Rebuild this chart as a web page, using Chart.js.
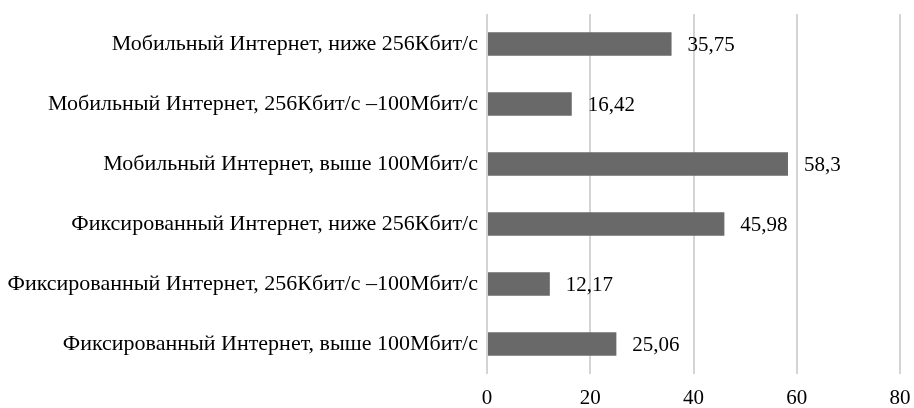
<!DOCTYPE html>
<html>
<head>
<meta charset="utf-8">
<script src="https://cdn.jsdelivr.net/npm/chart.js@4"></script>
<style>
  html, body { margin: 0; padding: 0; background: #fff; }
  #wrap { width: 914px; height: 408px; }
</style>
</head>
<body>
<div id="wrap"><canvas id="speedChart"></canvas></div>
<script>
/* ================= Data ================= */
const categories = [
  "Мобильный Интернет, ниже 256Кбит/с",
  "Мобильный Интернет, 256Кбит/с –100Мбит/с",
  "Мобильный Интернет, выше 100Мбит/с",
  "Фиксированный Интернет, ниже 256Кбит/с",
  "Фиксированный Интернет, 256Кбит/с –100Мбит/с",
  "Фиксированный Интернет, выше 100Мбит/с",
];
const values = [35.75, 16.42, 58.3, 45.98, 12.17, 25.06];
const xTicks = [0, 20, 40, 60, 80];

const FONT = "'Liberation Serif', 'Times New Roman', serif";

// value labels at the end of each bar
const barLabels = {
  id: "barLabels",
  afterDatasetsDraw(chart) {
    const ctx = chart.ctx;
    const meta = chart.getDatasetMeta(0);
    ctx.save();
    ctx.font = "21px " + FONT;
    ctx.fillStyle = "#000";
    ctx.textAlign = "left";
    ctx.textBaseline = "middle";
    meta.data.forEach((bar, i) => {
      const txt = String(values[i]).replace(".", ",");
      ctx.fillText(txt, bar.x + 16, bar.y + 1);
    });
    ctx.restore();
  },
};

const ctx = document.getElementById("speedChart").getContext("2d");
new Chart(ctx, {
  type: "bar",
  data: {
    labels: categories,
    datasets: [
      {
        data: values,
        backgroundColor: "#696969",
        barPercentage: 1,
        categoryPercentage: 0.39,
      },
    ],
  },
  options: {
    indexAxis: "y",
    responsive: true,
    maintainAspectRatio: false,
    animation: false,
    layout: { padding: { top: 14, right: 14, left: 0, bottom: 0 } },
    plugins: { legend: { display: false }, tooltip: { enabled: false } },
    scales: {
      x: {
        min: 0,
        max: 80,
        afterBuildTicks: (s) => { s.ticks = xTicks.map((v) => ({ value: v })); },
        grid: { color: "#d4d4d4", lineWidth: 2, drawTicks: false },
        border: { display: false },
        ticks: {
          color: "#000",
          font: { family: FONT, size: 21 },
          padding: 12,
        },
        afterFit: (s) => {
          s.height = 34;
          s.paddingLeft = 0;
          s.paddingRight = 0;
        },
      },
      y: {
        grid: { display: false },
        border: { display: false },
        ticks: {
          color: "#000",
          font: { family: FONT, size: 22 },
          padding: 1,
          autoSkip: false,
        },
        afterFit: (s) => {
          s.width = 487;
          s.paddingTop = 0;
          s.paddingBottom = 0;
        },
      },
    },
  },
  plugins: [barLabels],
});
</script>
</body>
</html>
